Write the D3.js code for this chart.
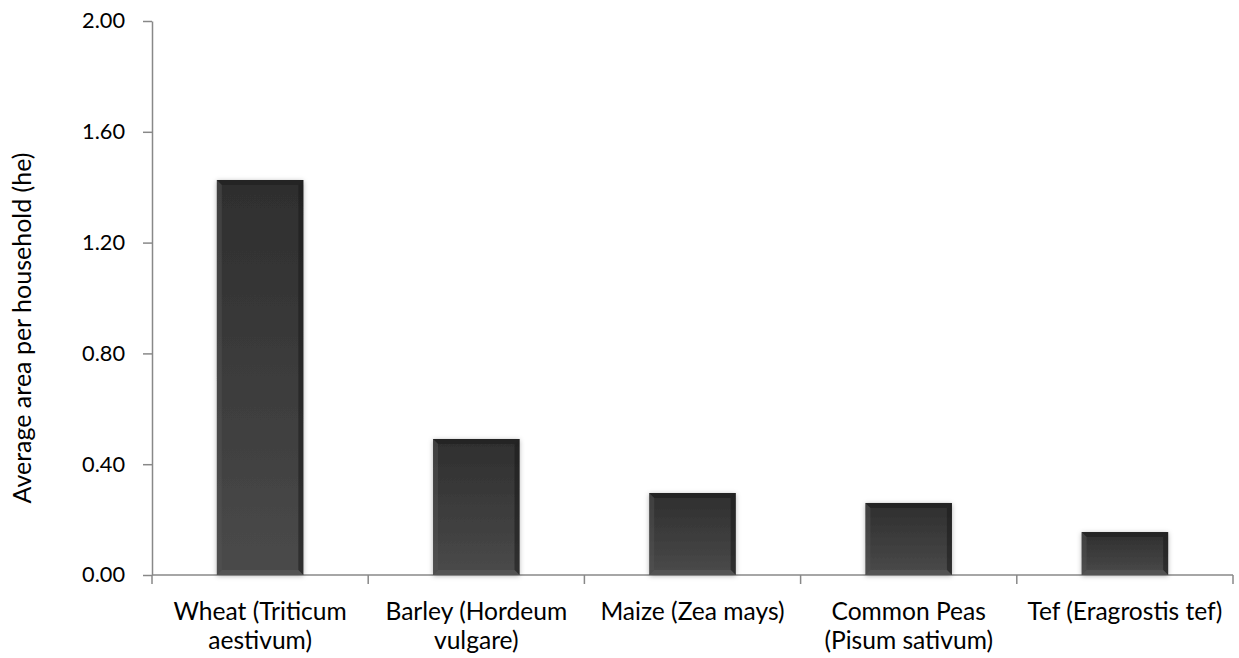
<!DOCTYPE html>
<html><head><meta charset="utf-8">
<script src="https://cdn.jsdelivr.net/npm/d3@7"></script>
<style>body{margin:0;background:#fff}svg{display:block}text{font-family:Lato,"Open Sans",sans-serif;fill:#000}</style>
</head><body><svg id="c" width="1239" height="658"></svg>
<script>
const categories = ["Wheat (Triticum|aestivum)","Barley (Hordeum|vulgare)","Maize (Zea mays)","Common Peas|(Pisum sativum)","Tef (Eragrostis tef)"];
const values = [1.426, 0.491, 0.296, 0.26, 0.155];
const yTicks = [0, 0.4, 0.8, 1.2, 1.6, 2.0];
const yTitle = "Average area per household (he)";

const svg = d3.select("#c");
const m = {l:152, r:1233, t:21, b:575};
const x = d3.scaleBand().domain(categories).range([m.l, m.r]).paddingInner(0.6).paddingOuter(0.3);
const y = d3.scaleLinear().domain([0,2]).range([m.b, m.t]);

// font-size calibration helper: fit a sample string to a target width
function fitSize(str, target){
  const t = svg.append("text").attr("font-size",100).text(str);
  const w = t.node().getComputedTextLength(); t.remove();
  return 100*target/w;
}
const tickFs = Math.min(22, fitSize("2.00", 43));
const catFs = Math.min(25, fitSize("Tef (Eragrostis tef)", 195));
const titleFs = Math.min(25, fitSize(yTitle, 353));

const defs = svg.append("defs");
const g = defs.append("linearGradient").attr("id","bg").attr("x1",0).attr("y1",0).attr("x2",0).attr("y2",1);
g.append("stop").attr("offset","0%").attr("stop-color","#2e2e2e");
g.append("stop").attr("offset","100%").attr("stop-color","#4a4a4a");
const f = defs.append("filter").attr("id","sh").attr("x","-20%").attr("y","-20%").attr("width","140%").attr("height","140%");
f.append("feDropShadow").attr("dx",0).attr("dy",1).attr("stdDeviation",2.5).attr("flood-color","#000").attr("flood-opacity",0.3);

// axes
const yAxis = d3.axisLeft(y).tickValues(yTicks).tickFormat(d3.format(".2f")).tickSize(9).tickSizeOuter(0);
const ya = svg.append("g").attr("transform",`translate(${m.l},0)`).call(yAxis);
ya.select(".domain").attr("stroke","#888").attr("stroke-width",1.5);
ya.selectAll(".tick line").attr("stroke","#888").attr("stroke-width",1.5);
ya.selectAll(".tick text").attr("font-size",tickFs).attr("x",-27).style("font-family","Lato,'Open Sans',sans-serif").attr("fill","#000");

const xa = svg.append("g").attr("transform",`translate(0,${m.b})`);
xa.append("line").attr("x1",m.l).attr("x2",m.r).attr("stroke","#888").attr("stroke-width",1.5);
const bounds = d3.range(categories.length+1).map(i => m.l + i*(m.r-m.l)/categories.length);
xa.selectAll("line.t").data(bounds).join("line").attr("class","t")
  .attr("x1",d=>d).attr("x2",d=>d).attr("y1",0).attr("y2",9).attr("stroke","#888").attr("stroke-width",1.5);

// bars
const bars = svg.append("g").selectAll("g").data(values).join("g");
bars.each(function(v,i){
  const gg = d3.select(this);
  const x0 = x(categories[i]), w = x.bandwidth(), y0 = y(v), h = y(0)-y(v);
  const b = 5;
  gg.append("rect").attr("x",x0).attr("y",y0).attr("width",w).attr("height",h).attr("fill","url(#bg)").attr("filter","url(#sh)");
  gg.append("path").attr("d",`M${x0},${y0}L${x0+w},${y0}L${x0+w-b},${y0+b}L${x0+b},${y0+b}Z`).attr("fill","#222").attr("opacity",0.8);
  gg.append("path").attr("d",`M${x0},${y0}L${x0+b},${y0+b}L${x0+b},${y0+h-b}L${x0},${y0+h}Z`).attr("fill","#555").attr("opacity",0.45);
  gg.append("path").attr("d",`M${x0+w},${y0}L${x0+w-b},${y0+b}L${x0+w-b},${y0+h-b}L${x0+w},${y0+h}Z`).attr("fill","#1a1a1a").attr("opacity",0.55);
  gg.append("path").attr("d",`M${x0},${y0+h}L${x0+b},${y0+h-b}L${x0+w-b},${y0+h-b}L${x0+w},${y0+h}Z`).attr("fill","#5a5a5a").attr("opacity",0.6);
});

// category labels (one text per line)
const lines = categories.flatMap(c => c.split("|").map((t,j) => ({c, t, j})));
svg.append("g").selectAll("text").data(lines).join("text")
  .attr("x",d=>x(d.c)+x.bandwidth()/2).attr("y",d=>620 + d.j*29)
  .attr("text-anchor","middle").attr("font-size",catFs).text(d=>d.t);

svg.append("text").attr("transform","translate(31,328) rotate(-90)").attr("text-anchor","middle").attr("font-size",titleFs).text(yTitle);
</script></body></html>
